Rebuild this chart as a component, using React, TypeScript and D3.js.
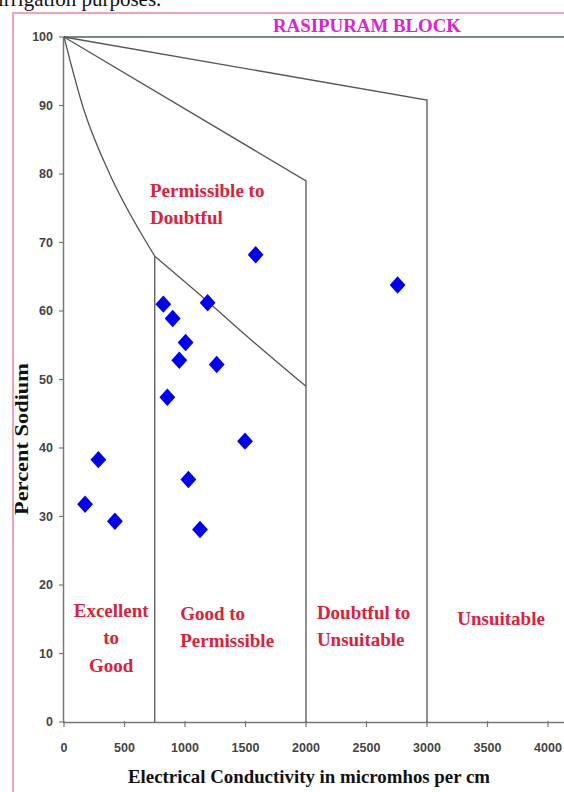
import React from 'react';
import * as d3 from 'd3';

// Sample points: Electrical Conductivity (micromhos/cm) vs Percent Sodium
const ecValues = [174, 284, 421, 821, 898, 1187, 1005, 953, 1262, 854, 1496, 1584, 1028, 1124, 2757];
const naValues = [31.8, 38.3, 29.3, 61.0, 58.9, 61.2, 55.4, 52.8, 52.2, 47.4, 41.0, 68.2, 35.4, 28.1, 63.8];

const xTicks = [0, 500, 1000, 1500, 2000, 2500, 3000, 3500, 4000];
const yTicks = [0, 10, 20, 30, 40, 50, 60, 70, 80, 90, 100];

// Wilcox diagram boundaries
const upperCurveEC = [0, 160, 380, 628, 750];
const upperCurveNa = [100, 89.6, 79.9, 71.6, 68.0];
const lowerCurveEC = [750, 1187, 1500, 2000];
const lowerCurveNa = [68.0, 61.4, 56.5, 49.0];
const line2000EC = [0, 2000, 2000];
const line2000Na = [100, 79.0, 0];
const line3000EC = [0, 3000, 3000];
const line3000Na = [100, 90.8, 0];
const line750EC = [750, 750];
const line750Na = [68.0, 0];

const regionLabels = [
  { lines: ['Excellent', 'to', 'Good'], ec: 390, na: 15.4, anchor: 'middle' },
  { lines: ['Good to', 'Permissible'], ec: 960, na: 14.9, anchor: 'start' },
  { lines: ['Doubtful to', 'Unsuitable'], ec: 2090, na: 15.1, anchor: 'start' },
  { lines: ['Unsuitable'], ec: 3250, na: 14.1, anchor: 'start' },
  { lines: ['Permissible to', 'Doubtful'], ec: 710, na: 76.7, anchor: 'start' },
];

export default function App() {
  const W = 564;
  const H = 792;
  const x = d3.scaleLinear().domain([0, 4000]).range([64, 548]);
  const y = d3.scaleLinear().domain([0, 100]).range([722, 37]);

  const straight = d3.line<[number, number]>().x((d) => x(d[0])).y((d) => y(d[1]));
  const smooth = d3
    .line<[number, number]>()
    .x((d) => x(d[0]))
    .y((d) => y(d[1]))
    .curve(d3.curveMonotoneX);

  const zip = (a: number[], b: number[]) => a.map((v, i) => [v, b[i]] as [number, number]);
  const diamond = d3.symbol().type(d3.symbolDiamond2).size(160)();

  const lineColor = '#555';
  const labelColor = '#e0203a';

  return (
    <svg
      width={W}
      height={H}
      style={{ position: 'absolute', left: 0, top: 0, display: 'block', background: '#fff' }}
    >
      <rect x={0} y={0} width={W} height={H} fill="#fff" />
      <text x={-2} y={6} fontFamily="Liberation Serif, serif" fontSize={21} fill="#111">
        irrigation purposes.
      </text>
      {/* frame */}
      <rect x={13} y={13} width={W + 20} height={H + 20} fill="none" stroke="#f3a3b4" strokeWidth={2} />

      {/* title */}
      <text
        x={367}
        y={32}
        textAnchor="middle"
        fontFamily="Liberation Serif, serif"
        fontWeight="bold"
        fontSize={18}
        fill="#e020d8"
        textLength={188}
        lengthAdjust="spacingAndGlyphs"
      >
        RASIPURAM BLOCK
      </text>

      {/* top boundary */}
      <line x1={x(0)} x2={W} y1={y(100)} y2={y(100)} stroke="#4f6060" strokeWidth={1.6} />

      {/* axes */}
      <line x1={63.5} x2={63.5} y1={y(100)} y2={y(0)} stroke="#777" strokeWidth={1.5} />
      <line x1={63} x2={W} y1={722.5} y2={722.5} stroke="#777" strokeWidth={1.5} />
      {yTicks.map((t) => (
        <g key={'y' + t}>
          <line x1={59} x2={64} y1={y(t)} y2={y(t)} stroke="#777" strokeWidth={1.2} />
          <text
            x={53}
            y={y(t)}
            dy="0.35em"
            textAnchor="end"
            fontFamily="Liberation Sans, Arial, sans-serif"
            fontWeight="bold"
            fontSize={12.5}
            fill="#444"
          >
            {t}
          </text>
        </g>
      ))}
      {xTicks.map((t) => (
        <g key={'x' + t}>
          <line x1={x(t)} x2={x(t)} y1={721} y2={727} stroke="#777" strokeWidth={1.2} />
          <text
            x={x(t)}
            y={748}
            dy="0.35em"
            textAnchor="middle"
            fontFamily="Liberation Sans, Arial, sans-serif"
            fontWeight="bold"
            fontSize={12.5}
            fill="#444"
          >
            {t}
          </text>
        </g>
      ))}

      {/* boundaries */}
      <path d={smooth(zip(upperCurveEC, upperCurveNa)) || ''} fill="none" stroke={lineColor} strokeWidth={1.3} />
      <path d={smooth(zip(lowerCurveEC, lowerCurveNa)) || ''} fill="none" stroke={lineColor} strokeWidth={1.3} />
      <path d={straight(zip(line2000EC, line2000Na)) || ''} fill="none" stroke={lineColor} strokeWidth={1.3} />
      <path d={straight(zip(line3000EC, line3000Na)) || ''} fill="none" stroke={lineColor} strokeWidth={1.3} />
      <path d={straight(zip(line750EC, line750Na)) || ''} fill="none" stroke={lineColor} strokeWidth={1.3} />

      {/* region labels */}
      {regionLabels.map((r, i) => (
        <text
          key={'r' + i}
          x={x(r.ec)}
          y={y(r.na)}
          textAnchor={r.anchor as any}
          fontFamily="Liberation Serif, serif"
          fontWeight="bold"
          fontSize={19}
          fill={labelColor}
        >
          {r.lines.map((l, j) => (
            <tspan key={j} x={x(r.ec)} dy={j === 0 ? 0 : 27.5}>
              {l}
            </tspan>
          ))}
        </text>
      ))}

      {/* points */}
      {ecValues.map((ec, i) => (
        <path
          key={'p' + i}
          d={diamond || ''}
          transform={`translate(${x(ec)},${y(naValues[i])}) scale(1,1.1)`}
          fill="#0000f0"
        />
      ))}

      {/* axis titles */}
      <text
        x={309}
        y={783}
        textAnchor="middle"
        fontFamily="Liberation Serif, serif"
        fontWeight="bold"
        fontSize={18}
        fill="#111"
        textLength={362}
        lengthAdjust="spacingAndGlyphs"
      >
        Electrical Conductivity in micromhos per cm
      </text>
      <text
        transform="translate(28,439) rotate(-90)"
        textAnchor="middle"
        fontFamily="Liberation Serif, serif"
        fontWeight="bold"
        fontSize={18}
        fill="#111"
        textLength={152}
        lengthAdjust="spacingAndGlyphs"
      >
        Percent Sodium
      </text>
    </svg>
  );
}
